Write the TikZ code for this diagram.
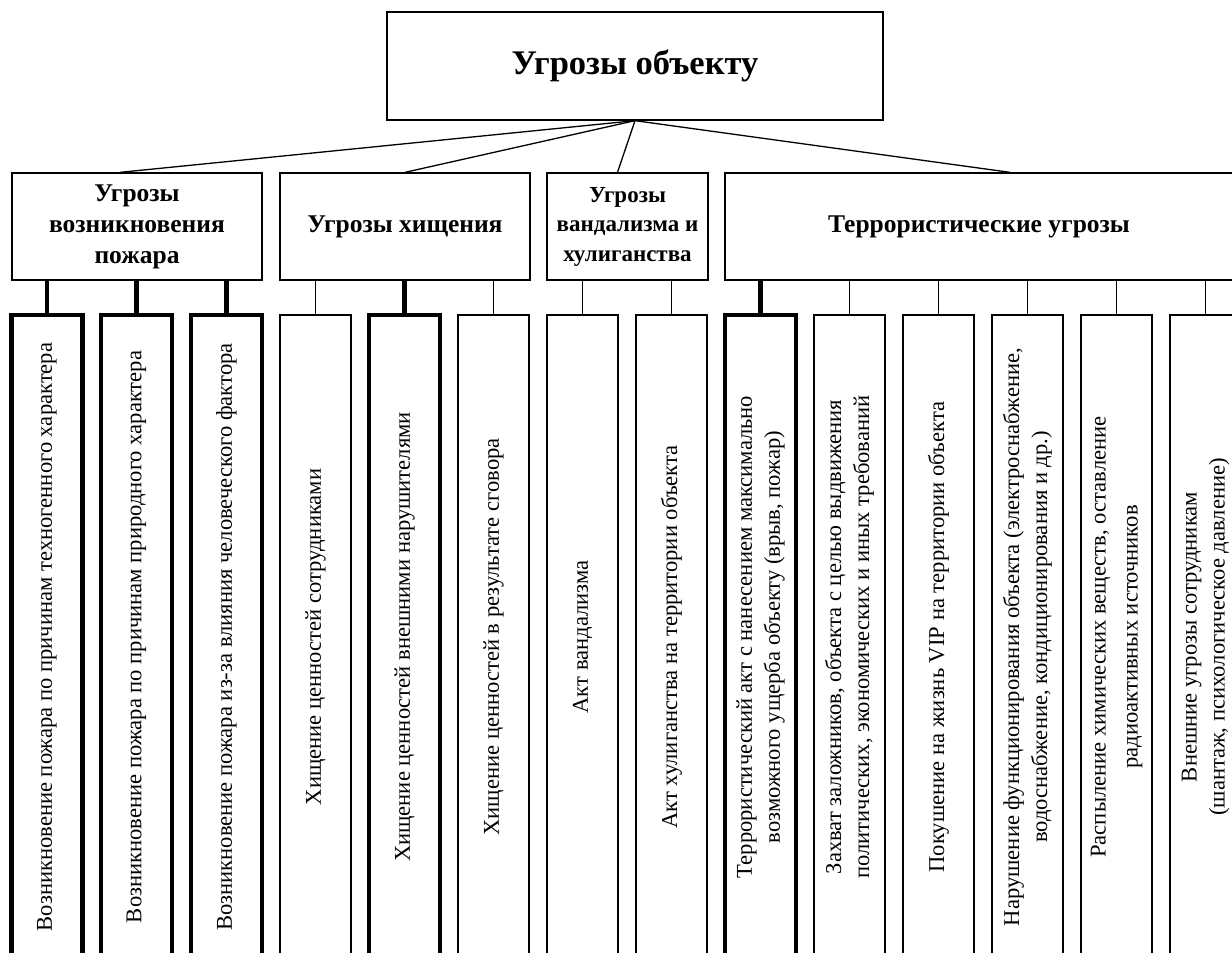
\documentclass[tikz,border=0pt]{standalone}
\usepackage{fontspec}
\setmainfont{Liberation Serif}
\begin{document}
\begin{tikzpicture}[x=1pt,y=-1pt,
  box/.style={draw, line width=1.3pt, inner sep=0pt, fill=white},
  heavy/.style={line width=4.6pt},
  thin/.style={line width=1.3pt},
  leaf/.style={box, rotate=90, minimum width=644pt, minimum height=71pt, align=center,
    font=\fontsize{22.6}{28}\selectfont},
  cat/.style={box, minimum height=107pt, align=center,
    font=\bfseries\fontsize{25.5}{31}\selectfont},
]
\useasboundingbox (0,0) rectangle (1232,953);
\clip (0,0) rectangle (1232,953);

% top
\node[box, minimum width=496pt, minimum height=108pt,
  font=\bfseries\fontsize{34.5}{38}\selectfont] (top) at (635,66) {Угрозы объекту};

% categories
\node[cat, minimum width=250pt] (c1) at (137,226.5) {Угрозы\\возникновения\\пожара};
\node[cat, minimum width=250pt] (c2) at (405,226.5) {Угрозы хищения};
\node[cat, minimum width=161pt, font=\bfseries\fontsize{23}{29.5}\selectfont] (c3) at (627.5,226.5) {Угрозы\\вандализма и\\хулиганства};
\node[cat, minimum width=508pt] (c4) at (979,226.5) {Террористические угрозы};

\draw[thin] (top.south) -- ([xshift=-17pt]c1.north);
\draw[thin] (top.south) -- (c2.north);
\draw[thin] (top.south) -- ([xshift=-10pt]c3.north);
\draw[thin] (top.south) -- ([xshift=31pt]c4.north);

% leaves
\node[leaf, heavy] (l1) at (47,637) {Возникновение пожара по причинам техногенного характера};
\node[leaf, heavy] (l2) at (136.5,637) {Возникновение пожара по причинам природного характера};
\node[leaf, heavy] (l3) at (226.5,637) {Возникновение пожара из-за влияния человеческого фактора};
\node[leaf] (l4) at (315.5,637) {Хищение ценностей сотрудниками};
\node[leaf, heavy] (l5) at (404.5,637) {Хищение ценностей внешними нарушителями};
\node[leaf] (l6) at (493.5,637) {Хищение ценностей в результате сговора};
\node[leaf] (l7) at (582.5,637) {Акт вандализма};
\node[leaf] (l8) at (671.5,637) {Акт хулиганства на территории объекта};
\node[leaf, heavy] (l9) at (760.5,637) {Террористический акт с нанесением максимально\\возможного ущерба объекту (врыв, пожар)};
\node[leaf] (l10) at (849.5,637) {Захват заложников, объекта с целью выдвижения\\политических, экономических и иных требований};
\node[leaf] (l11) at (938.5,637) {Покушение на жизнь VIP на территории объекта};
\node[leaf] (l12) at (1027.5,637) {Нарушение функционирования объекта (электроснабжение,\\водоснабжение, кондиционирования и др.)};
\node[leaf] (l13) at (1116.5,637) {Распыление химических веществ, оставление\\[4pt]радиоактивных источников};
\node[leaf] (l14) at (1205.5,637) {Внешние угрозы сотрудникам\\(шантаж, психологическое давление)};

% stems
\foreach \l/\c in {l1/c1,l2/c1,l3/c1,l5/c2,l9/c4}
  \draw[heavy] (\c.south -| \l.east) -- (\l.east);
\foreach \l/\c in {l4/c2,l6/c2,l7/c3,l8/c3,l10/c4,l11/c4,l12/c4,l13/c4,l14/c4}
  \draw[thin] (\c.south -| \l.east) -- (\l.east);
\end{tikzpicture}
\end{document}
